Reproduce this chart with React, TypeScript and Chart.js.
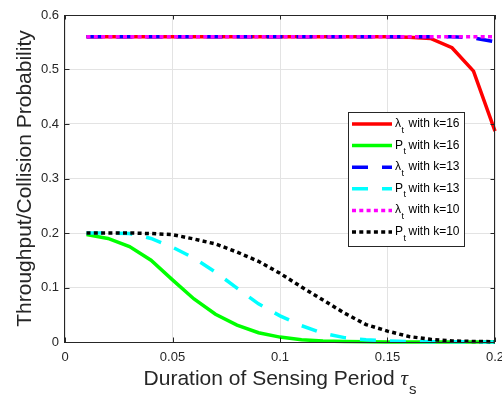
import React, { useEffect, useRef } from "react";
import { Chart, registerables } from "chart.js";

Chart.register(...registerables);

// ---- data ----
const tau = [0.01, 0.02, 0.03, 0.04, 0.05, 0.06, 0.07, 0.08, 0.09, 0.1, 0.11, 0.12, 0.13, 0.14, 0.15, 0.16, 0.17, 0.18, 0.19, 0.2];
const lambdaK16 = [0.56, 0.56, 0.56, 0.56, 0.56, 0.56, 0.56, 0.56, 0.56, 0.56, 0.56, 0.56, 0.56, 0.56, 0.56, 0.559, 0.557, 0.54, 0.497, 0.387];
const pK16 = [0.197, 0.19, 0.175, 0.15, 0.114, 0.079, 0.051, 0.031, 0.017, 0.009, 0.004, 0.002, 0.001, 0.0005, 0.0002, 0.0001, 0, 0, 0, 0];
const lambdaK13 = [0.56, 0.56, 0.56, 0.56, 0.56, 0.56, 0.56, 0.56, 0.56, 0.56, 0.56, 0.56, 0.56, 0.56, 0.56, 0.56, 0.56, 0.56, 0.558, 0.551];
const pK13 = [0.2, 0.2, 0.199, 0.19, 0.174, 0.154, 0.128, 0.099, 0.07, 0.048, 0.03, 0.016, 0.008, 0.004, 0.002, 0.001, 0.0005, 0.0003, 0.0002, 0.0001];
const lambdaK10 = [0.56, 0.56, 0.56, 0.56, 0.56, 0.56, 0.56, 0.56, 0.56, 0.56, 0.56, 0.56, 0.56, 0.56, 0.56, 0.56, 0.56, 0.56, 0.56, 0.56];
const pK10 = [0.2, 0.2, 0.2, 0.199, 0.197, 0.189, 0.18, 0.165, 0.148, 0.126, 0.101, 0.077, 0.053, 0.032, 0.02, 0.01, 0.005, 0.002, 0.001, 0.0005];

const xTicks = [0, 0.05, 0.1, 0.15, 0.2];
const xTickLabels = ["0", "0.05", "0.1", "0.15", "0.2"];
const yTicks = [0, 0.1, 0.2, 0.3, 0.4, 0.5, 0.6];
const yTickLabels = ["0", "0.1", "0.2", "0.3", "0.4", "0.5", "0.6"];

const seriesNames = [
  { sym: "\u03bb", k: "16" },
  { sym: "P", k: "16" },
  { sym: "\u03bb", k: "13" },
  { sym: "P", k: "13" },
  { sym: "\u03bb", k: "10" },
  { sym: "P", k: "10" },
];
const seriesValues = [lambdaK16, pK16, lambdaK13, pK13, lambdaK10, pK10];
const seriesColors = ["#ff0000", "#00ff00", "#0000ff", "#00ffff", "#ff00ff", "#000000"];

const xTitle = "Duration of Sensing Period";
const yTitle = "Throughput/Collision Probability";

const SANS = "'Liberation Sans', Arial, Helvetica, sans-serif";
const AXIS_COLOR = "#262626";
const LINE_W = 3.5;
const DASHED = [16, 14];
const DOTTED = [4, 3.3];
const dashes = [[], [], DASHED, DASHED, DOTTED, DOTTED];

const decorPlugin = {
  id: "decor",
  afterDraw(chart: any) {
    const ctx = chart.ctx as CanvasRenderingContext2D;
    const { left, right, top, bottom } = chart.chartArea;
    const xs = chart.scales.x;
    const ys = chart.scales.y;
    ctx.save();
    // axes box
    ctx.strokeStyle = AXIS_COLOR;
    ctx.lineWidth = 1;
    ctx.setLineDash([]);
    ctx.strokeRect(Math.round(left) + 0.5 - 1, Math.round(top) + 0.5, Math.round(right - left), Math.round(bottom - top));
    // ticks (inward, all four sides)
    const tl = 4.5;
    ctx.beginPath();
    xTicks.forEach((v) => {
      const px = Math.round(xs.getPixelForValue(v)) + 0.5;
      ctx.moveTo(px, bottom);
      ctx.lineTo(px, bottom - tl);
      ctx.moveTo(px, top);
      ctx.lineTo(px, top + tl);
    });
    yTicks.forEach((v) => {
      const py = Math.round(ys.getPixelForValue(v)) + 0.5;
      ctx.moveTo(left, py);
      ctx.lineTo(left + tl, py);
      ctx.moveTo(right, py);
      ctx.lineTo(right - tl, py);
    });
    ctx.stroke();

    // legend
    const lx = 348, ly = 112, lw = 116, lh = 134;
    ctx.fillStyle = "#ffffff";
    ctx.fillRect(lx, ly, lw, lh);
    ctx.strokeStyle = AXIS_COLOR;
    ctx.lineWidth = 1;
    ctx.strokeRect(lx + 0.5, ly + 0.5, lw, lh);
    seriesNames.forEach((s, i) => {
      const cy = 124 + i * 21.6;
      ctx.save();
      ctx.strokeStyle = seriesColors[i];
      ctx.lineWidth = LINE_W;
      ctx.lineCap = "butt";
      ctx.setLineDash(dashes[i]);
      ctx.beginPath();
      ctx.moveTo(352, cy);
      ctx.lineTo(392, cy);
      ctx.stroke();
      ctx.restore();
      ctx.fillStyle = "#000000";
      ctx.textAlign = "left";
      ctx.textBaseline = "alphabetic";
      ctx.font = `12px ${SANS}`;
      const base = cy + 3;
      ctx.fillText(s.sym, 395, base);
      const sw = ctx.measureText(s.sym).width;
      ctx.font = `9px ${SANS}`;
      ctx.fillText("t", 395 + sw + 0.5, base + 5.5);
      ctx.font = `12px ${SANS}`;
      ctx.fillText("with k=" + s.k, 408.5, base);
    });

    // x title
    ctx.fillStyle = AXIS_COLOR;
    ctx.textBaseline = "alphabetic";
    ctx.textAlign = "left";
    ctx.font = `21px ${SANS}`;
    const mainW = ctx.measureText(xTitle + " ").width;
    ctx.font = `italic 21px 'Liberation Serif', 'DejaVu Serif', serif`;
    const tauW = ctx.measureText("\u03c4").width;
    ctx.font = `15px ${SANS}`;
    const sW = ctx.measureText("s").width;
    const total = mainW + tauW + 1 + sW;
    const cx = (left + right) / 2;
    let x0 = cx - total / 2;
    ctx.font = `21px ${SANS}`;
    ctx.fillText(xTitle + " ", x0, 385);
    ctx.font = `italic 21px 'Liberation Serif', 'DejaVu Serif', serif`;
    ctx.fillText("\u03c4", x0 + mainW, 385);
    ctx.font = `15px ${SANS}`;
    ctx.fillText("s", x0 + mainW + tauW + 1, 394);

    // y title
    ctx.save();
    ctx.translate(31, (top + bottom) / 2);
    ctx.rotate(-Math.PI / 2);
    ctx.textAlign = "center";
    ctx.textBaseline = "alphabetic";
    ctx.font = `21px ${SANS}`;
    ctx.fillStyle = AXIS_COLOR;
    ctx.fillText(yTitle, 0, 0);
    ctx.restore();

    ctx.restore();
  },
};

export default function App() {
  const ref = useRef<HTMLCanvasElement>(null);
  useEffect(() => {
    const canvas = ref.current!;
    const datasets = seriesValues.map((vals, i) => ({
      label: seriesNames[i].sym + "t with k=" + seriesNames[i].k,
      data: vals.map((v, j) => ({ x: tau[j], y: v })),
      borderColor: seriesColors[i],
      backgroundColor: seriesColors[i],
      borderWidth: LINE_W,
      borderDash: dashes[i],
      borderCapStyle: "butt" as const,
      pointRadius: 0,
      tension: 0,
      fill: false,
      order: 6 - i,
      clip: 6,
    }));
    const chart = new Chart(canvas, {
      type: "line",
      data: { datasets },
      options: {
        responsive: false,
        animation: false,
        devicePixelRatio: 1,
        layout: { padding: { top: 15, right: 7, left: 0, bottom: 0 } },
        plugins: { legend: { display: false }, tooltip: { enabled: false } },
        scales: {
          x: {
            type: "linear",
            min: 0,
            max: 0.2,
            afterBuildTicks: (s: any) => {
              s.ticks = xTicks.map((v) => ({ value: v }));
            },
            afterFit: (s: any) => {
              s.height = 52;
              s.paddingLeft = 0;
              s.paddingRight = 0;
            },
            ticks: {
              autoSkip: false,
              maxRotation: 0,
              padding: 8,
              color: AXIS_COLOR,
              font: { family: SANS, size: 13 },
              callback: (_v: any, i: number) => xTickLabels[i],
            },
            grid: { color: "#e3e3e3", drawTicks: false, lineWidth: 1 },
            border: { display: false },
          },
          y: {
            type: "linear",
            min: 0,
            max: 0.6,
            afterBuildTicks: (s: any) => {
              s.ticks = yTicks.map((v) => ({ value: v }));
            },
            afterFit: (s: any) => {
              s.width = 65;
              s.paddingTop = 0;
              s.paddingBottom = 0;
            },
            ticks: {
              autoSkip: false,
              padding: 6,
              color: AXIS_COLOR,
              font: { family: SANS, size: 13 },
              callback: (_v: any, i: number) => yTickLabels[i],
            },
            grid: { color: "#e3e3e3", drawTicks: false, lineWidth: 1 },
            border: { display: false },
          },
        },
      },
      plugins: [decorPlugin],
    });
    return () => chart.destroy();
  }, []);
  return (
    <div style={{ position: "absolute", left: 0, top: 0, width: 502, height: 394, background: "#ffffff" }}>
      <canvas ref={ref} width={502} height={394} style={{ display: "block", width: 502, height: 394 }} />
    </div>
  );
}
